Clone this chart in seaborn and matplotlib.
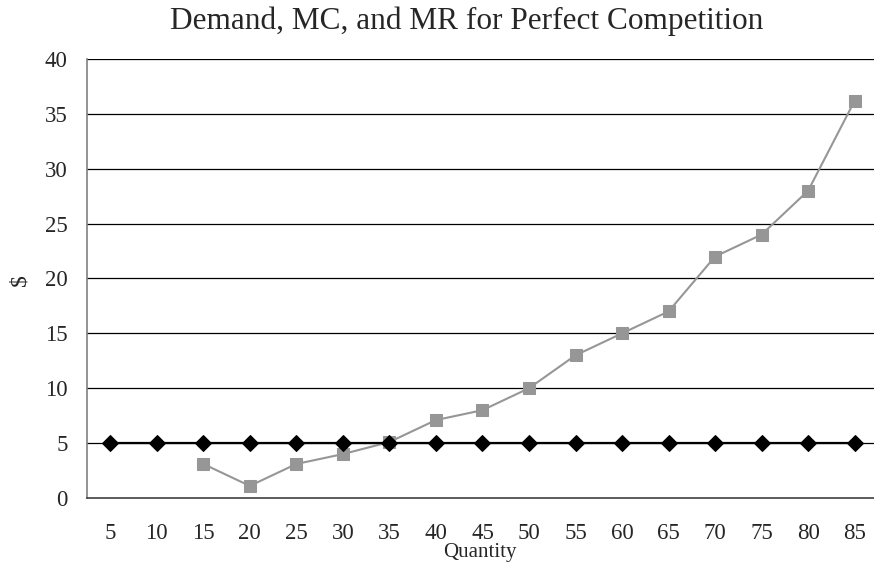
import matplotlib
matplotlib.use("Agg")
import matplotlib.pyplot as plt
import seaborn as sns
import numpy as np
import pandas as pd

quantity = ["5", "10", "15", "20", "25", "30", "35", "40", "45", "50", "55", "60", "65", "70", "75", "80", "85"]
demand_mr = [5, 5, 5, 5, 5, 5, 5, 5, 5, 5, 5, 5, 5, 5, 5, 5, 5]
mc = [np.nan, np.nan, 3.1, 1.1, 3.1, 4.0, 5.1, 7.1, 8.0, 10.0, 13.0, 15.0, 17.0, 22.0, 24.0, 28.0, 36.2]
yticks = [0, 5, 10, 15, 20, 25, 30, 35, 40]

sns.set_style("white")
plt.rcParams['font.family'] = ['Liberation Serif', 'DejaVu Serif']

df = pd.DataFrame({"pos": np.arange(len(quantity)), "Demand": demand_mr, "MC": mc})

fig = plt.figure(figsize=(8.74, 5.65), dpi=100)
ax = fig.add_axes([0.0995, 0.1186, 0.905, 0.777])

for y in yticks[1:]:
    ax.axhline(y, color="black", lw=0.9, zorder=0)

sns.lineplot(data=df.dropna(subset=["MC"]), x="pos", y="MC", ax=ax, color="#969696",
             marker="s", markersize=8.5, markeredgecolor="#969696", lw=1.5, zorder=3)
sns.lineplot(data=df, x="pos", y="Demand", ax=ax, color="black",
             marker="D", markersize=8, markeredgecolor="black", lw=1.6, zorder=4)

ax.set_xlim(-0.5, len(quantity) - 0.5)
ax.set_ylim(0, 40)
ax.set_yticks(yticks)
ax.set_yticklabels([str(v) for v in yticks], fontsize=16.5)
ax.set_xticks(np.arange(len(quantity)))
ax.set_xticklabels(quantity, fontsize=16.5)
ax.set_xticks(np.arange(len(quantity) + 1) - 0.5, minor=True)
ax.tick_params(axis="x", which="major", length=0, pad=18)
ax.tick_params(axis="x", which="minor", length=6, width=1, color="black", direction="out")
ax.tick_params(axis="y", length=6, width=1, color="black", direction="out", pad=8)

for s in ["top", "right"]:
    ax.spines[s].set_visible(False)
ax.spines["left"].set_color("#808080")
ax.spines["bottom"].set_color("#404040")
ax.spines["left"].set_linewidth(1.2)
ax.spines["bottom"].set_linewidth(1.2)

ax.set_xlabel("")
ax.set_ylabel("")
fig.text(480 / 874, 1 - 552 / 565, "Quantity", fontsize=15, ha="center", va="center")
fig.text(20 / 874, 1 - 280 / 565, "$", fontsize=17, ha="center", va="center", rotation=90)
fig.text(467 / 874, 1 - 29 / 565, "Demand, MC, and MR for Perfect Competition",
         fontsize=22.5, ha="center", va="baseline")

fig.savefig("out.png", dpi=100)
